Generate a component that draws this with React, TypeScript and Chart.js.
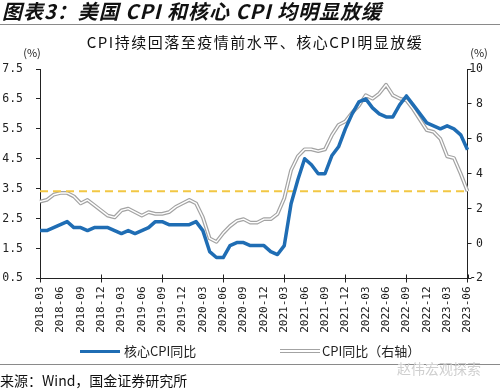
import React, { useEffect, useRef } from "react";
import { Chart, registerables } from "chart.js";

Chart.register(...registerables);

const months: string[] = [
  "2018-03", "2018-04", "2018-05", "2018-06", "2018-07", "2018-08", "2018-09", "2018-10", "2018-11", "2018-12",
  "2019-01", "2019-02", "2019-03", "2019-04", "2019-05", "2019-06", "2019-07", "2019-08", "2019-09", "2019-10", "2019-11", "2019-12",
  "2020-01", "2020-02", "2020-03", "2020-04", "2020-05", "2020-06", "2020-07", "2020-08", "2020-09", "2020-10", "2020-11", "2020-12",
  "2021-01", "2021-02", "2021-03", "2021-04", "2021-05", "2021-06", "2021-07", "2021-08", "2021-09", "2021-10", "2021-11", "2021-12",
  "2022-01", "2022-02", "2022-03", "2022-04", "2022-05", "2022-06", "2022-07", "2022-08", "2022-09", "2022-10", "2022-11", "2022-12",
  "2023-01", "2023-02", "2023-03", "2023-04", "2023-05", "2023-06",
];

// 核心CPI同比 (left axis, %)
const coreCpiYoY: number[] = [
  2.1, 2.1, 2.2, 2.3, 2.4, 2.2, 2.2, 2.1, 2.2, 2.2,
  2.2, 2.1, 2.0, 2.1, 2.0, 2.1, 2.2, 2.4, 2.4, 2.3, 2.3, 2.3,
  2.3, 2.4, 2.1, 1.4, 1.2, 1.2, 1.6, 1.7, 1.7, 1.6, 1.6, 1.6,
  1.4, 1.3, 1.6, 3.0, 3.8, 4.5, 4.3, 4.0, 4.0, 4.6, 4.9, 5.5,
  6.0, 6.4, 6.5, 6.2, 6.0, 5.9, 5.9, 6.3, 6.6, 6.3, 6.0, 5.7,
  5.6, 5.5, 5.6, 5.5, 5.3, 4.8,
];

// CPI同比 (right axis, %)
const cpiYoY: number[] = [
  2.4, 2.5, 2.8, 2.9, 2.9, 2.7, 2.3, 2.5, 2.2, 1.9,
  1.6, 1.5, 1.9, 2.0, 1.8, 1.6, 1.8, 1.7, 1.7, 1.8, 2.1, 2.3,
  2.5, 2.3, 1.5, 0.3, 0.1, 0.6, 1.0, 1.3, 1.4, 1.2, 1.2, 1.4,
  1.4, 1.7, 2.6, 4.2, 5.0, 5.4, 5.4, 5.3, 5.4, 6.2, 6.8, 7.0,
  7.5, 7.9, 8.5, 8.3, 8.6, 9.1, 8.5, 8.3, 8.2, 7.7, 7.1, 6.5,
  6.4, 6.0, 5.0, 4.9, 4.0, 3.0,
];

// horizontal dashed reference level (right axis, %)
const referenceLevel = 3.0;
const referenceLine: number[] = months.map(() => referenceLevel);

const leftAxis = { min: 0.5, max: 7.5, step: 1 };
const rightAxis = { min: -2, max: 10, step: 2 };

const BLUE = "#1f6db4";
const GRAY = "#a3a3a3";
const YELLOW = "#f2c744";
const AXIS = "#222";
const CJK = '"Noto Sans CJK SC", "Noto Sans", sans-serif';
const MONO = '"DejaVu Sans Mono", monospace';

const crossTicks = {
  id: "crossTicks",
  afterDraw(chart: any) {
    const xs = chart.scales.x;
    const { ctx, chartArea } = chart;
    ctx.save();
    ctx.strokeStyle = AXIS;
    ctx.lineWidth = 1;
    ctx.beginPath();
    for (let i = 0; i < xs.ticks.length; i++) {
      if (i % 3 !== 0) continue;
      const px = Math.round(xs.getPixelForTick(i)) + 0.5;
      ctx.moveTo(px, chartArea.bottom);
      ctx.lineTo(px, chartArea.bottom - 4);
    }
    ctx.stroke();
    ctx.restore();
  },
};

function ChartCanvas() {
  const ref = useRef<HTMLCanvasElement | null>(null);
  useEffect(() => {
    if (!ref.current) return;
    const chart = new Chart(ref.current, {
      type: "line",
      data: {
        labels: months,
        datasets: [
          {
            label: "核心CPI同比",
            data: coreCpiYoY,
            yAxisID: "y",
            borderColor: BLUE,
            borderWidth: 3.5,
            pointRadius: 0,
            tension: 0,
            borderJoinStyle: "round",
            order: 0,
          },
          {
            label: "参考线",
            data: referenceLine,
            yAxisID: "y1",
            borderColor: YELLOW,
            borderWidth: 2,
            borderDash: [8, 5],
            pointRadius: 0,
            order: 1,
          },
          {
            label: "CPI同比（右轴）inner",
            data: cpiYoY,
            yAxisID: "y1",
            borderColor: "#ffffff",
            borderWidth: 1.4,
            pointRadius: 0,
            tension: 0,
            borderJoinStyle: "round",
            order: 2,
          },
          {
            label: "CPI同比（右轴）",
            data: cpiYoY,
            yAxisID: "y1",
            borderColor: GRAY,
            borderWidth: 3.8,
            pointRadius: 0,
            tension: 0,
            borderJoinStyle: "round",
            order: 3,
          },
        ],
      },
      options: {
        animation: false,
        responsive: false,
        devicePixelRatio: 1,
        layout: { padding: { top: 69, left: 0, right: 17, bottom: 0 } },
        plugins: { legend: { display: false }, tooltip: { enabled: false }, title: { display: false } },
        scales: {
          x: {
            type: "category",
            offset: false,
            afterFit: (s: any) => { s.height = 112.5; },
            border: { display: true, color: AXIS, width: 1 },
            grid: {
              drawOnChartArea: false,
              drawTicks: true,
              tickLength: 4,
              color: (c: any) => (c.index % 3 === 0 ? AXIS : "rgba(0,0,0,0)"),
              tickColor: (c: any) => (c.index % 3 === 0 ? AXIS : "rgba(0,0,0,0)"),
            },
            ticks: {
              autoSkip: false,
              maxRotation: 90,
              minRotation: 90,
              padding: 4,
              color: AXIS,
              font: { family: MONO, size: 11 },
              callback: (_v: any, i: number) => (i % 3 === 0 ? months[i] : null),
            },
          },
          y: {
            position: "left",
            min: leftAxis.min,
            max: leftAxis.max,
            afterFit: (s: any) => { s.width = 40; },
            border: { display: true, color: AXIS, width: 1 },
            grid: { drawOnChartArea: false, drawTicks: true, tickLength: 4, color: AXIS },
            ticks: {
              stepSize: leftAxis.step,
              padding: 13,
              color: AXIS,
              font: { family: MONO, size: 11.5 },
              callback: (v: any) => Number(v).toFixed(1),
            },
          },
          y1: {
            position: "right",
            min: rightAxis.min,
            max: rightAxis.max,
            afterFit: (s: any) => { s.width = 15.5; },
            border: { display: true, color: AXIS, width: 1 },
            grid: { drawOnChartArea: false, drawTicks: true, tickLength: 4, color: AXIS },
            ticks: {
              stepSize: rightAxis.step,
              crossAlign: "far",
              color: AXIS,
              font: { family: MONO, size: 11.5 },
              callback: (v: any) => String(v),
            },
          },
        },
      },
      plugins: [crossTicks],
    } as any);
    return () => chart.destroy();
  }, []);
  return (
    <canvas
      ref={ref}
      width={500}
      height={391}
      style={{ position: "absolute", left: 0, top: 0, width: 500, height: 391 }}
    />
  );
}

const txt = (left: number, cy: number, size: number, extra: React.CSSProperties = {}): React.CSSProperties => ({
  position: "absolute",
  left,
  top: cy - size * 0.75,
  height: size * 1.5,
  lineHeight: `${size * 1.5}px`,
  fontSize: size,
  fontFamily: CJK,
  color: "#111",
  whiteSpace: "nowrap",
  ...extra,
});

export default function App() {
  return (
    <div
      style={{
        position: "fixed",
        left: 0,
        top: 0,
        width: 500,
        height: 391,
        background: "#fff",
        overflow: "hidden",
      }}
    >
      <ChartCanvas />
      <div style={txt(2, 11, 20, { fontWeight: 700, fontStyle: "italic", color: "#111", letterSpacing: "1px" })}>
        图表3：美国 CPI 和核心 CPI 均明显放缓
      </div>
      <div style={{ position: "absolute", left: 0, top: 24, width: 500, height: 1, background: "#8a8a8a" }} />
      <div style={txt(255, 42.5, 15, { transform: "translateX(-50%)", letterSpacing: "1.5px" })}>
        CPI持续回落至疫情前水平、核心CPI明显放缓
      </div>
      <div style={txt(32, 52.5, 11, { transform: "translateX(-50%)", color: "#222" })}>(%)</div>
      <div style={txt(479, 52.5, 11, { transform: "translateX(-50%)", color: "#222" })}>(%)</div>

      <div style={{ position: "absolute", left: 80, top: 349.5, width: 40, height: 3, background: BLUE }} />
      <div style={txt(124, 351, 13, { color: "#222" })}>核心CPI同比</div>
      <div
        style={{
          position: "absolute",
          left: 280,
          top: 349,
          width: 40,
          height: 1.6,
          borderTop: `1.2px solid ${GRAY}`,
          borderBottom: `1.2px solid ${GRAY}`,
          background: "#fff",
        }}
      />
      <div style={txt(322, 351, 13, { color: "#222" })}>CPI同比（右轴）</div>

      <div style={{ position: "absolute", left: 0, top: 364, width: 500, height: 1, background: "#8a8a8a" }} />
      <div style={txt(397, 368, 14, { color: "#cfcfcf" })}>赵伟宏观探索</div>
      <div style={txt(0, 380.5, 14, { color: "#111" })}>来源：Wind，国金证券研究所</div>
    </div>
  );
}
